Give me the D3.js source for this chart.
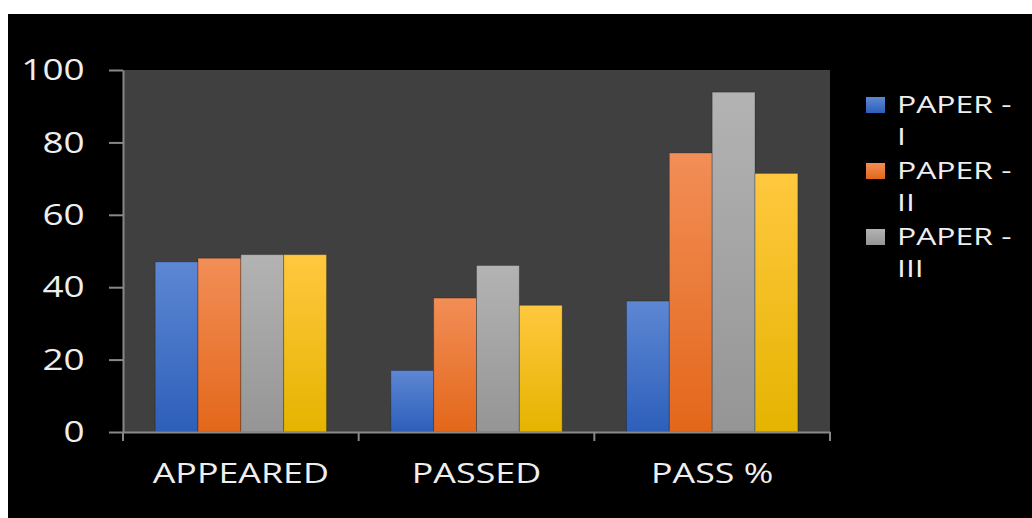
<!DOCTYPE html>
<html>
<head>
<meta charset="utf-8">
<script src="https://cdn.jsdelivr.net/npm/d3@7"></script>
<style>
  html, body { margin: 0; padding: 0; background: #fff; }
  text { font-family: "Open Sans", sans-serif; fill: #eeeeee; }
</style>
</head>
<body>
<script>
// chart data
const categories = ["APPEARED", "PASSED", "PASS %"];
const series = ["PAPER - I", "PAPER - II", "PAPER - III", "PAPER - IV"];
const paper1 = [47, 17, 36.17];
const paper2 = [48, 37, 77.08];
const paper3 = [49, 46, 93.88];
const paper4 = [49, 35, 71.43];
const yTicks = [0, 20, 40, 60, 80, 100];

const values = [paper1, paper2, paper3, paper4];
const colors = [
  ["#5d87d3", "#2d5fba"],
  ["#f28e57", "#e3671a"],
  ["#b3b3b3", "#959595"],
  ["#ffc83f", "#e5b400"]
];

const W = 1032, H = 518;
const sx = 1.28; // the original picture is stretched sideways

const svg = d3.select("body").append("svg")
  .attr("width", W)
  .attr("height", H);

svg.append("rect").attr("width", W).attr("height", H).attr("fill", "#fff");
svg.append("rect").attr("x", 8).attr("y", 14).attr("width", W - 8).attr("height", H - 14).attr("fill", "#000");

const plot = {left: 123, right: 830, top: 70, bottom: 432};

const x0 = d3.scaleBand().domain(categories).range([plot.left, plot.right]).padding(0);
const x1 = d3.scaleBand().domain(series).range([0, x0.bandwidth()]).paddingInner(0).paddingOuter(0.75);
const y = d3.scaleLinear().domain([0, 100]).range([plot.bottom, plot.top]);

svg.append("rect")
  .attr("x", plot.left).attr("y", plot.top)
  .attr("width", plot.right - plot.left).attr("height", plot.bottom - plot.top)
  .attr("fill", "#404040");

// gradients
const defs = svg.append("defs");
series.forEach((s, i) => {
  const g = defs.append("linearGradient").attr("id", "grad" + i)
    .attr("x1", 0).attr("y1", 0).attr("x2", 0).attr("y2", 1);
  g.append("stop").attr("offset", "0%").attr("stop-color", colors[i][0]);
  g.append("stop").attr("offset", "100%").attr("stop-color", colors[i][1]);
});

// bars
series.forEach((s, i) => {
  svg.append("g").selectAll("rect")
    .data(categories)
    .enter().append("rect")
    .attr("x", c => x0(c) + x1(s))
    .attr("y", (c, j) => y(values[i][j]))
    .attr("width", x1.bandwidth())
    .attr("height", (c, j) => y(0) - y(values[i][j]))
    .attr("fill", "url(#grad" + i + ")")
    .attr("stroke", "rgba(0,0,0,0.25)")
    .attr("stroke-width", 1);
});

// y axis
const yAxis = svg.append("g")
  .attr("transform", "translate(" + plot.left + ",0)")
  .call(d3.axisLeft(y).tickValues(yTicks).tickSize(14).tickSizeOuter(0).tickPadding(26));
yAxis.select(".domain").attr("stroke", "#888").attr("stroke-width", 2);
yAxis.selectAll(".tick line").attr("stroke", "#888").attr("stroke-width", 2);
yAxis.selectAll(".tick text")
  .attr("x", -40 / sx)
  .attr("transform", "scale(" + (sx - 0.05) + ",1)")
  .attr("fill", "#eeeeee")
  .style("font-size", "30px")
  .style("font-family", "'Open Sans', sans-serif");

// x axis
const xAxis = svg.append("g")
  .attr("transform", "translate(0," + plot.bottom + ")")
  .call(d3.axisBottom(x0).tickSize(0).tickPadding(0));
xAxis.select(".domain").attr("stroke", "#888").attr("stroke-width", 2);
xAxis.selectAll(".tick text").remove();

// category boundary ticks
const bounds = categories.map(c => x0(c)).concat([x0.range()[1]]);
xAxis.selectAll(".bound").data(bounds).enter().append("line")
  .attr("x1", d => d).attr("x2", d => d)
  .attr("y1", 0).attr("y2", 9)
  .attr("stroke", "#888").attr("stroke-width", 2);

// category labels
xAxis.selectAll(".cat").data(categories).enter().append("text")
  .attr("transform", c => "translate(" + (x0(c) + x0.bandwidth() / 2) + ",51) scale(" + sx + ",1)")
  .attr("text-anchor", "middle")
  .style("font-size", "28px")
  .text(c => c);

// legend (the fourth entry does not fit in the original and is cut)
const legend = svg.append("g");
series.slice(0, 3).forEach((s, i) => {
  const ly = 97 + i * 66;
  legend.append("rect")
    .attr("x", 866).attr("y", ly).attr("width", 19).attr("height", 16)
    .attr("fill", "url(#grad" + i + ")");
  const parts = [s.slice(0, s.lastIndexOf(" ")), s.slice(s.lastIndexOf(" ") + 1)];
  parts.forEach((p, k) => {
    legend.append("text")
      .attr("transform", "translate(897," + (ly + 16 + k * 32) + ") scale(" + (sx + 0.05) + ",1)")
      .style("font-size", "24px")
      .text(p);
  });
});
</script>
</body>
</html>
